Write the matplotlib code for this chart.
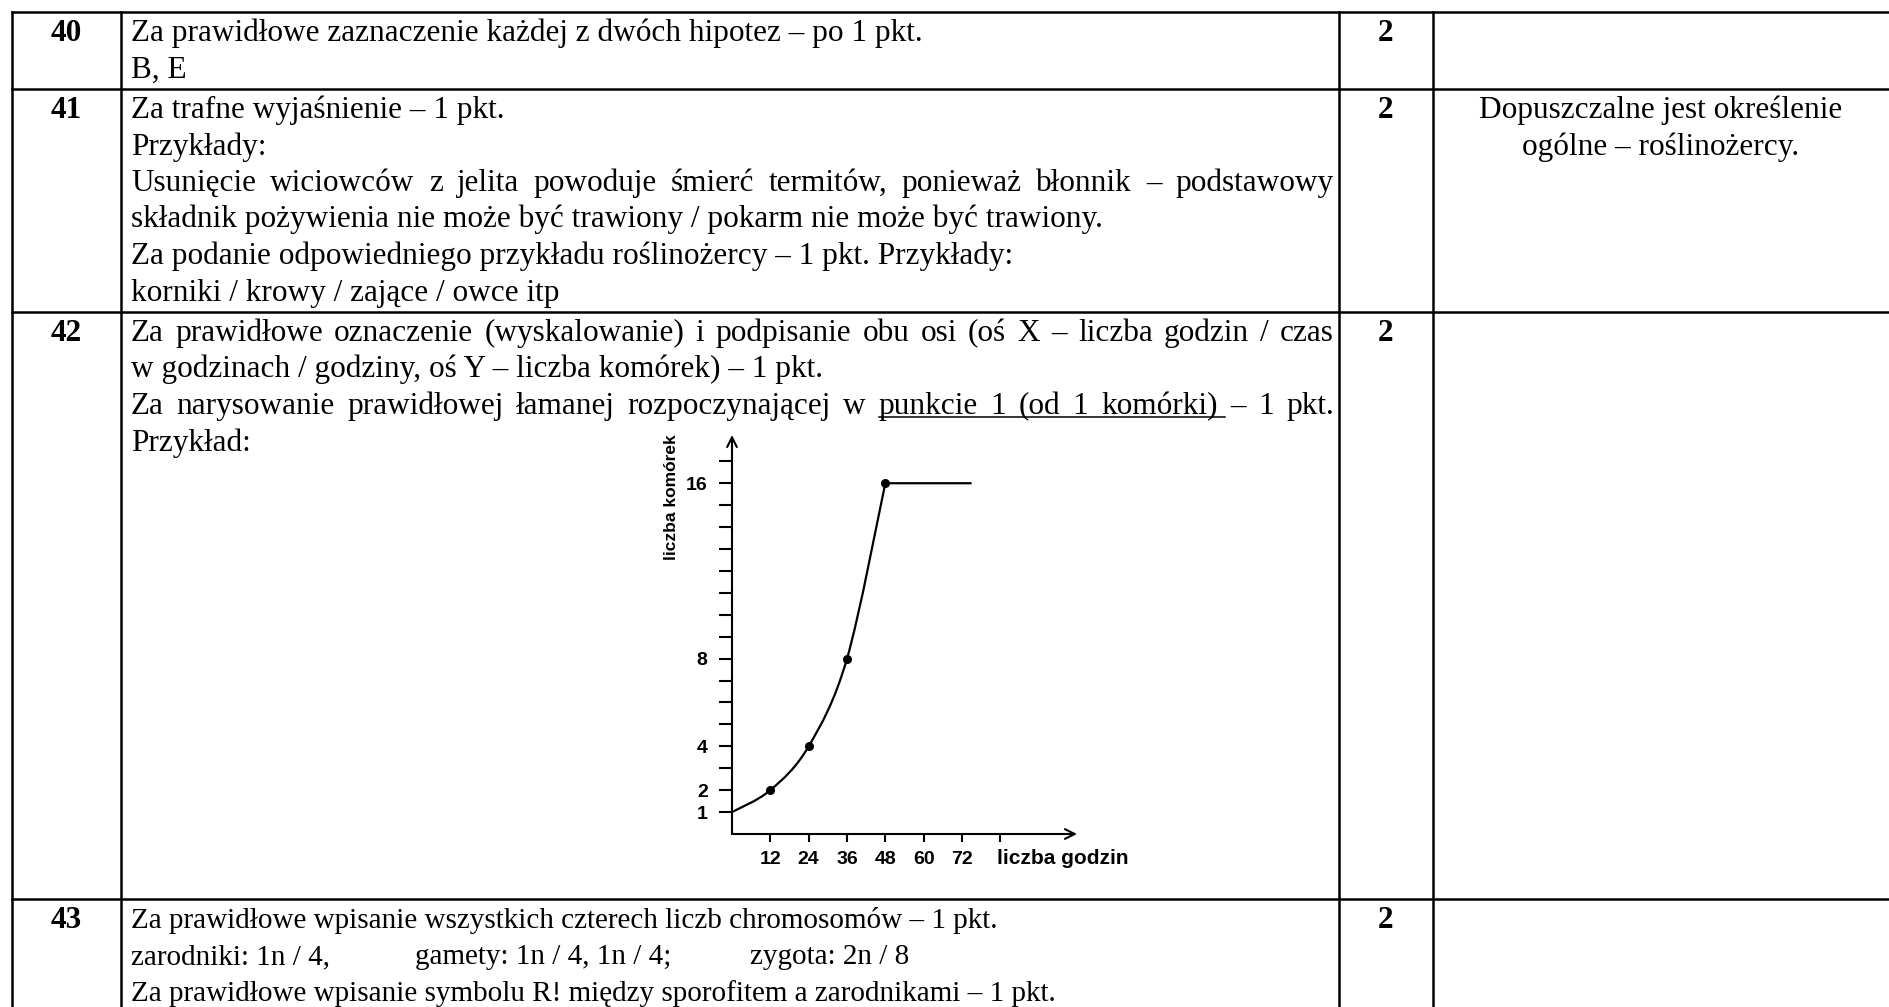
import matplotlib.pyplot as plt
from matplotlib.path import Path
from matplotlib.patches import PathPatch

# --- chart data (zadanie 42) ---
hours = [0, 12, 24, 36, 48]
cells = [1, 2, 4, 8, 16]
plateau_end = 75
x_ticks = [12, 24, 36, 48, 60, 72, 84]
x_tick_labels = ["12", "24", "36", "48", "60", "72", ""]
y_ticks = list(range(1, 18))
y_tick_labels = {1: "1", 2: "2", 4: "4", 8: "8", 16: "16"}
x_title = "liczba godzin"
y_title = "liczba komórek"

# --- table text ---
task_numbers = ["40", "41", "42", "43"]
task_points = ["2", "2", "2", "2"]
row40 = [
    "Za prawidłowe zaznaczenie każdej z dwóch hipotez – po 1 pkt.",
    "B, E",
]
row41 = [
    "Za trafne wyjaśnienie – 1 pkt.",
    "Przykłady:",
    "Usunięcie wiciowców z jelita powoduje śmierć termitów, ponieważ błonnik – podstawowy",
    "składnik pożywienia nie może być trawiony / pokarm nie może być trawiony.",
    "Za podanie odpowiedniego przykładu roślinożercy – 1 pkt. Przykłady:",
    "korniki / krowy / zające / owce itp",
]
row41_justified = [2]
row41_note = ["Dopuszczalne jest określenie", "ogólne – roślinożercy."]
row42 = [
    "Za prawidłowe oznaczenie (wyskalowanie) i podpisanie obu osi (oś X – liczba godzin / czas",
    "w godzinach / godziny, oś Y – liczba komórek) – 1 pkt.",
    "Za narysowanie prawidłowej łamanej rozpoczynającej w punkcie 1 (od 1 komórki) – 1 pkt.",
    "Przykład:",
]
row42_justified = [0, 2]
row42_underlined = (2, 6, 10)  # line, first word, last word
row43 = [
    "Za prawidłowe wpisanie wszystkich czterech liczb chromosomów – 1 pkt.",
    None,
    "Za prawidłowe wpisanie symbolu R! między sporofitem a zarodnikami – 1 pkt.",
]
row43_tabbed = ["zarodniki: 1n / 4,", "gamety: 1n / 4, 1n / 4;", "zygota: 2n / 8"]

W, H = 1889, 1007
SERIF = "Liberation Serif"
SANS = "Liberation Sans"
FS = 22.5
FS43 = 21
LH = 36.5
BASE = 10

fig = plt.figure(figsize=(W / 100, H / 100), dpi=100)
bg = fig.add_axes([0, 0, 1, 1])
bg.set_xlim(0, W)
bg.set_ylim(H, 0)
bg.axis("off")
renderer = fig.canvas.get_renderer()

# grid of the table
col_x = [12, 121, 1339, 1433]
row_y = [12, 89, 312, 899]
for y in row_y:
    bg.plot([col_x[0], W], [y, y], color="black", lw=1.8, solid_capstyle="projecting")
for x in col_x:
    bg.plot([x, x], [row_y[0], H], color="black", lw=1.8, solid_capstyle="projecting")

x_left = 131
x_right = 1334


def put(text, x, y, ha="left", bold=False, size=FS):
    return bg.text(x, y + BASE, text, fontsize=size, family=SERIF, va="baseline", ha=ha,
                   fontweight="bold" if bold else "normal")


def put_justified(text, y):
    words = text.split(" ")
    arts = [put(w, 0, y) for w in words]
    widths = [a.get_window_extent(renderer).width for a in arts]
    gap = (x_right - x_left - sum(widths)) / (len(words) - 1)
    pos = x_left
    spans = []
    for a, w in zip(arts, widths):
        a.set_x(pos)
        spans.append((pos, pos + w))
        pos += w + gap
    return spans, gap


def put_row(lines, top, justified=(), underline=None, size=FS):
    for i, line in enumerate(lines):
        y = top + 19 + i * LH
        if line is None:
            continue
        if i in justified:
            spans, gap = put_justified(line, y)
            if underline and underline[0] == i:
                x0 = spans[underline[1]][0]
                x1 = spans[underline[2]][1] + gap * 0.6
                bg.plot([x0, x1], [y + BASE + 3, y + BASE + 3], color="black", lw=1.1)
        else:
            put(line, x_left, y, size=size)


for k, top in enumerate(row_y):
    y = top + 19
    put(task_numbers[k], (col_x[0] + col_x[1]) / 2, y, ha="center", bold=True)
    put(task_points[k], (col_x[2] + col_x[3]) / 2, y, ha="center", bold=True)

put_row(row40, row_y[0])
put_row(row41, row_y[1], row41_justified)
put_row(row42, row_y[2], row42_justified, row42_underlined)
put_row(row43, row_y[3], size=FS43)
for txt, x in zip(row43_tabbed, [x_left, 415, 750]):
    put(txt, x, row_y[3] + 19 + LH, size=FS43)
for i, txt in enumerate(row41_note):
    put(txt, 1661, row_y[1] + 19 + i * LH, ha="center")

# --- embedded chart ---
ox, oy, tx, ty = 732, 834, 1077, 435
ax = fig.add_axes([ox / W, (H - oy) / H, (tx - ox) / W, (oy - ty) / H])
ax.set_xlim(0, 108)
ax.set_ylim(0, 18.2)
ax.patch.set_alpha(0)
for s in ax.spines.values():
    s.set_visible(False)
arrow = dict(arrowstyle="->,head_length=0.7,head_width=0.35", lw=1.5, color="black",
             shrinkA=0, shrinkB=0)
ax.annotate("", xy=(1, 0), xytext=(0, 0), xycoords="axes fraction", arrowprops=arrow)
ax.annotate("", xy=(0, 1), xytext=(0, 0), xycoords="axes fraction", arrowprops=arrow)

ax.set_xticks(x_ticks)
ax.set_xticklabels(x_tick_labels)
ax.set_yticks(y_ticks)
ax.set_yticklabels([y_tick_labels.get(v, "") for v in y_ticks])
ax.tick_params(axis="x", direction="out", length=6, width=1.5, pad=6)
ax.tick_params(axis="y", direction="out", length=9.5, width=1.5, pad=8)
for lab in ax.get_xticklabels() + ax.get_yticklabels():
    lab.set_fontfamily(SANS)
    lab.set_fontweight("bold")
    lab.set_fontsize(14)

# smooth curve through the points (Catmull-Rom as cubic Bezier)
pts = list(zip(hours, cells))
verts = [pts[0]]
codes = [Path.MOVETO]
for i in range(len(pts) - 1):
    p0 = pts[max(i - 1, 0)]
    p1, p2 = pts[i], pts[i + 1]
    p3 = pts[min(i + 2, len(pts) - 1)]
    c1 = (p1[0] + (p2[0] - p0[0]) / 6, p1[1] + (p2[1] - p0[1]) / 6)
    c2 = (p2[0] - (p3[0] - p1[0]) / 6, p2[1] - (p3[1] - p1[1]) / 6)
    verts += [c1, c2, p2]
    codes += [Path.CURVE4] * 3
verts.append((plateau_end, cells[-1]))
codes.append(Path.LINETO)
ax.add_patch(PathPatch(Path(verts, codes), fill=False, lw=1.6, color="black", clip_on=False))
ax.plot(hours[1:], cells[1:], "o", color="black", ms=5.5, clip_on=False)

fig.text(1063 / W, 1 - 858 / H, x_title, fontsize=15, family=SANS, fontweight="bold",
         ha="center", va="center")
fig.text(671 / W, 1 - 497 / H, y_title, fontsize=12.5, family=SANS, fontweight="bold",
         ha="center", va="center", rotation=90)

fig.savefig("out.png", dpi=100)
